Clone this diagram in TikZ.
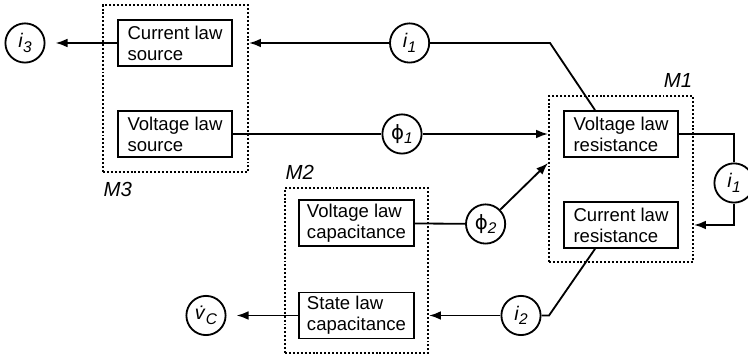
\documentclass[tikz,border=0pt]{standalone}
\usepackage{fontspec}
\setmainfont{Liberation Sans}
\newfontfamily\phifont{DejaVu Sans}
\usepackage{tikz}
\usetikzlibrary{arrows.meta}
\newcommand{\lowidx}[1]{\raisebox{-0.45ex}{\fontsize{11}{11}\selectfont\textit{#1}}}
\tikzset{block/.style={draw, line width=1.3pt, align=left, minimum width=2.85cm, inner xsep=0.2cm,
                       minimum height=1.15cm, inner ysep=0pt, font=\fontsize{13.2}{15}\selectfont},
         var/.style={draw, circle, line width=1.3pt, minimum size=0.98cm, inner sep=0pt,
                     font=\fontsize{14}{15}\selectfont},
         group/.style={draw, line width=1.4pt, dash pattern=on 1.4pt off 1.4pt, inner sep=0pt},
         tag/.style={font=\fontsize{14.5}{15}\selectfont\itshape, inner sep=1pt},
         flow/.style={line width=1.3pt, -{Latex[length=0.3cm,width=0.22cm]}},
         wire/.style={line width=1.3pt}}

\begin{document}
\begin{tikzpicture}
\useasboundingbox (0,0) rectangle (18.7,8.875);
\node [group, minimum width=3.625cm, minimum height=4.175cm] (M3) at (4.3875,6.6625) {};
\node [group, minimum width=3.6cm, minimum height=4.15cm] (M1) at (15.525,4.4) {};
\node [group, minimum width=3.575cm, minimum height=4.125cm] (M2) at (8.9125,2.1125) {};
\node [tag, anchor=north west] (m3lab) at ([yshift=-0.2cm]M3.south west) {M3};
\node [tag, anchor=south east] (m1lab) at ([yshift=0.15cm]M1.north east) {M1};
\node [tag, anchor=south west] (m2lab) at ([yshift=0.15cm]M2.north west) {M2};

\node [block] (csrc) at (4.375,7.8) {Current law\\source};
\node [block] (vsrc) at (4.375,5.525) {Voltage law\\source};
\node [block] (vres) at (15.525,5.525) {Voltage law\\resistance};
\node [block] (cres) at (15.525,3.25) {Current law\\resistance};
\node [block] (vcap) at (8.9125,3.3) {Voltage law\\capacitance};
\node [block] (scap) at (8.9125,0.9875) {State law\\capacitance};

\node [var] (i3) at (0.625,7.8) {\textit{i}\lowidx{3}};
\node [var] (i1top) at (10.24,7.8) {\textit{i}\lowidx{1}};
\node [var] (phi1) at (10.05,5.525) {{\phifont ϕ}\lowidx{1}};
\node [var] (i1side) at (18.35,4.3) {\textit{i}\lowidx{1}};
\node [var] (phi2) at (12.14,3.275) {{\phifont ϕ}\lowidx{2}};
\node [var] (i2) at (13.025,0.9875) {\textit{i}\lowidx{2}};
\node [var] (vc) at (5.15,0.9875) {\textit{\.{v}}\lowidx{C}};

\coordinate (bend1) at (13.75,7.8);
\coordinate (bend2) at (13.725,0.9875);

\draw [flow, shorten >=0.25cm] (csrc) -- (i3);
\draw [wire] ([xshift=-0.65cm]vres.north) -- (bend1) -- (i1top);
\draw [flow] (i1top) -- (M3.east |- i1top);
\draw [wire] (vsrc) -- (phi1);
\draw [flow] (phi1) -- (M1.west |- phi1);
\draw [wire] (vres.east) -| (i1side.north);
\draw [flow] (i1side.south) |- (M1.east |- cres.east);
\draw [wire] (vcap) -- (phi2);
\draw [flow] (phi2) -- ([yshift=0.4cm]M1.west);
\draw [wire] ([xshift=-0.65cm]cres.south) -- (bend2) -- (i2);
\draw [flow] (i2) -- (M2.east |- i2);
\draw [flow, shorten >=0.25cm] (scap) -- (vc);
\end{tikzpicture}
\end{document}
